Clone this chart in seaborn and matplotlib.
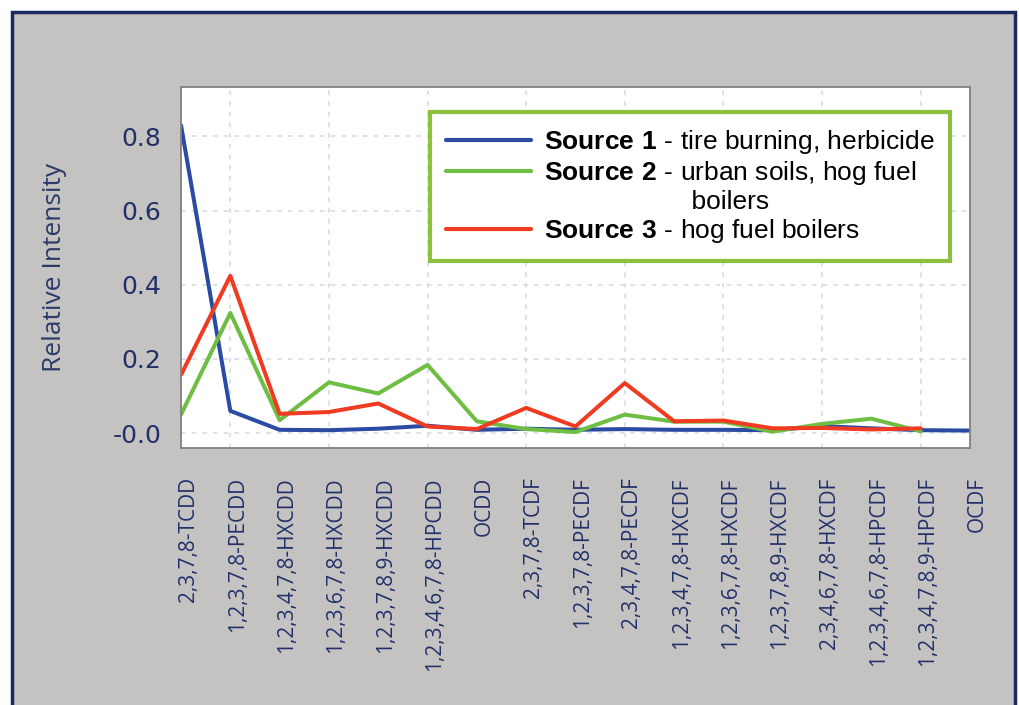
import numpy as np
import pandas as pd
import matplotlib
matplotlib.use("Agg")
import matplotlib.pyplot as plt
from matplotlib.patches import Rectangle
from matplotlib.lines import Line2D
from matplotlib.transforms import ScaledTranslation
import seaborn as sns

categories = ["2,3,7,8-TCDD", "1,2,3,7,8-PECDD", "1,2,3,4,7,8-HXCDD", "1,2,3,6,7,8-HXCDD",
              "1,2,3,7,8,9-HXCDD", "1,2,3,4,6,7,8-HPCDD", "OCDD", "2,3,7,8-TCDF",
              "1,2,3,7,8-PECDF", "2,3,4,7,8-PECDF", "1,2,3,4,7,8-HXCDF", "1,2,3,6,7,8-HXCDF",
              "1,2,3,7,8,9-HXCDF", "2,3,4,6,7,8-HXCDF", "1,2,3,4,6,7,8-HPCDF",
              "1,2,3,4,7,8,9-HPCDF", "OCDF"]
source1 = [0.830, 0.060, 0.009, 0.008, 0.012, 0.020, 0.009, 0.012, 0.009, 0.011, 0.009,
           0.009, 0.008, 0.019, 0.013, 0.008, 0.007]
source2 = [0.050, 0.324, 0.035, 0.137, 0.107, 0.184, 0.032, 0.011, 0.003, 0.050, 0.031,
           0.031, 0.004, 0.025, 0.039, 0.005]
source3 = [0.157, 0.424, 0.052, 0.057, 0.080, 0.018, 0.011, 0.068, 0.018, 0.135, 0.032,
           0.034, 0.013, 0.014, 0.010, 0.013]
series_names = ["Source 1", "Source 2", "Source 3"]
legend_desc = ["tire burning, herbicide", "urban soils, hog fuel", "hog fuel boilers"]
legend_extra = "boilers"
ytick_vals = [0.0, 0.2, 0.4, 0.6, 0.8]
ytick_labels = ["-0.0", "0.2", "0.4", "0.6", "0.8"]
colors = ["#2B4BA3", "#6EBE44", "#EF3B22"]

rows = []
for name, vals in zip(series_names, [source1, source2, source3]):
    for i, v in enumerate(vals):
        rows.append({"idx": i, "value": v, "source": name})
df = pd.DataFrame(rows)

sns.set_theme(style="white")
plt.rcParams["font.family"] = ["Open Sans", "DejaVu Sans"]
plt.rcParams["mathtext.fontset"] = "custom"
plt.rcParams["mathtext.bf"] = "Liberation Sans:bold"
plt.rcParams["mathtext.rm"] = "Liberation Sans"

fig = plt.figure(figsize=(10.2, 7.05), dpi=100)
fig.patch.set_facecolor("white")
fig.patches.append(Rectangle((12 / 1020, -0.05), 1003 / 1020, 1 - 12 / 705 + 0.05,
                             transform=fig.transFigure, facecolor="#C4C3C1",
                             edgecolor="#1B2A5E", linewidth=2.5, zorder=-10))

ax = fig.add_axes([181 / 1020, 1 - 448 / 705, 789 / 1020, 361 / 705])
ax.set_facecolor("white")

sns.lineplot(data=df, x="idx", y="value", hue="source", palette=colors,
             linewidth=2.9, sort=False, legend=False, ax=ax)

ax.set_xlim(0, 16)
ax.set_ylim(-0.04, 0.933)

ax.xaxis.remove_overlapping_locs = False
ax.set_xticks(range(len(categories)))
ax.set_xticklabels(categories, rotation=90, fontsize=15, color="#22306A")
ax.set_xticks(range(1, len(categories), 2), minor=True)
ax.set_yticks(ytick_vals)
ax.set_yticklabels(ytick_labels, fontsize=18, color="#22306A", family="DejaVu Sans")
ax.tick_params(axis="both", which="both", length=0)
ax.tick_params(axis="x", pad=21)
ax.tick_params(axis="y", pad=14)
for lab in ax.get_xticklabels():
    lab.set_transform(lab.get_transform() + ScaledTranslation(7 / 100, 0, fig.dpi_scale_trans))

ax.grid(False)
ax.grid(True, which="minor", axis="x", color="#D3DAE3", linestyle=(0, (3, 4)), linewidth=1.1)
ax.grid(True, which="major", axis="y", color="#D3DAE3", linestyle=(0, (3, 4)), linewidth=1.1)
ax.set_axisbelow(True)

for sp in ax.spines.values():
    sp.set_color("#808080")
    sp.set_linewidth(1.3)

ax.set_xlabel("")
ax.set_ylabel("Relative Intensity", fontsize=19, color="#2B3A67", labelpad=33)

handles = [Line2D([], [], color=colors[0], linewidth=3),
           Line2D([], [], color=colors[1], linewidth=3),
           Line2D([], [], color="none", linewidth=3),
           Line2D([], [], color=colors[2], linewidth=3)]
labels = [r"$\bf{Source\ 1}$ - " + legend_desc[0],
          r"$\bf{Source\ 2}$ - " + legend_desc[1],
          " " * 20 + legend_extra,
          r"$\bf{Source\ 3}$ - " + legend_desc[2]]
leg = ax.legend(handles, labels, loc="upper right", bbox_to_anchor=(0.975, 0.931),
                frameon=True, fancybox=False, framealpha=1, edgecolor="#8DC03F",
                prop={"family": "Liberation Sans", "size": 19},
                handlelength=3.2, handletextpad=0.5, labelspacing=0.12,
                borderpad=0.6, borderaxespad=0)
leg.get_frame().set_linewidth(3)
for t in leg.get_texts():
    t.set_color("black")

fig.savefig("out.png", dpi=100)
